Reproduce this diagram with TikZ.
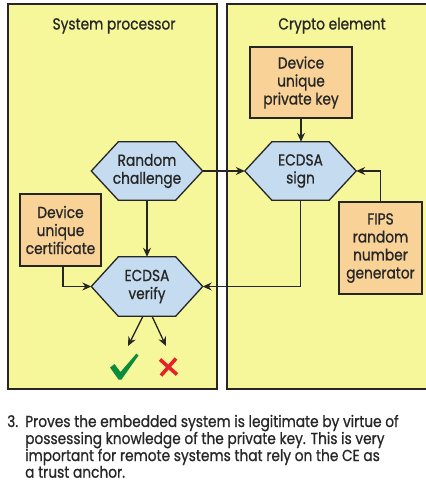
\documentclass[tikz,border=0pt]{standalone}
\usepackage{fontspec}
\setmainfont{Poppins}[FakeStretch=0.86,FakeBold=0.8]
\usetikzlibrary{arrows.meta,calc,backgrounds}
\definecolor{panelyellow}{HTML}{F6F69A}
\definecolor{boxorange}{HTML}{F8D296}
\definecolor{hexblue}{HTML}{C5DCF0}
\definecolor{inkgray}{HTML}{262626}
\definecolor{okgreen}{HTML}{0A8C3C}
\definecolor{nored}{HTML}{E8202A}
\tikzset{
  txt/.style={font=\fontsize{16}{18}\selectfont, text=inkgray, align=center, inner sep=0pt},
  panelsty/.style={draw=inkgray, line width=1.5pt, fill=panelyellow},
  boxsty/.style={txt, draw=inkgray, line width=1.3pt, fill=boxorange},
  hexnode/.style={txt, minimum width=111pt, minimum height=58pt},
  hexsty/.style={draw=inkgray, line width=1.3pt, fill=hexblue, line join=miter},
  conn/.style={draw=inkgray, line width=1.3pt, -{Stealth[length=9pt,width=8pt,inset=3pt]}},
}
\begin{document}
\begin{tikzpicture}[x=1pt,y=-1pt]
\useasboundingbox (0,0) rectangle (425,494);

% titles
\node[txt, anchor=base] (titleL) at (114,29.5) {System processor};
\node[txt, anchor=base] (titleR) at (332,29.5) {Crypto element};

% boxes
\node[boxsty, minimum width=102pt, minimum height=71pt] (key) at (301,82.5) {Device\\unique\\private key};
\node[boxsty, minimum width=81pt, minimum height=72pt] (cert) at (60.5,230) {Device\\unique\\certificate};
\node[boxsty, minimum width=83pt, minimum height=92pt] (fips) at (380.5,248) {FIPS\\random\\number\\generator};

% hexagon nodes
\node[hexnode] (chal) at (147,171) {Random\\challenge};
\node[hexnode] (sign) at (300.5,171) {ECDSA\\sign};
\node[hexnode, minimum height=59pt] (verify) at (147,286.5) {ECDSA\\verify};

\begin{scope}[on background layer]
  \draw[panelsty] (8,4) rectangle (217,389);
  \draw[panelsty] (227,4) rectangle (440,389);
  \foreach \n in {chal,sign,verify}
    \draw[hexsty] (\n.west) -- ($(\n.north west)+(27,0)$) -- ($(\n.north east)+(-27,0)$)
      -- (\n.east) -- ($(\n.south east)+(-27,0)$) -- ($(\n.south west)+(27,0)$) -- cycle;
\end{scope}

% connectors
\draw[conn] (key.south) -- (key.south |- sign.north);
\draw[conn] (chal.east) -- (sign.west);
\draw[conn] (fips.north) |- (sign.east);
\draw[conn] (sign.south) |- (verify.east);
\draw[conn] (chal.south) -- (verify.north);
\draw[conn] ([xshift=2.5pt]cert.south) |- (verify.west);

\coordinate (okend) at (128,346);
\coordinate (noend) at (166,346);
\draw[conn] ([xshift=-4pt]verify.south) -- (okend);
\draw[conn] ([xshift=5pt]verify.south) -- (noend);

% check mark
\fill[okgreen] (110,367.5) -- (114.5,364) -- (120.5,372) -- (136.5,353.5) -- (138.5,355.5)
  -- (121.5,379.5) -- (118.5,379.5) -- cycle;
% cross
\draw[nored, line width=3.6pt] (160,359.5) -- (177,374.5);
\draw[nored, line width=3.6pt] (176,358.5) -- (161,375.5);

% caption
\node[txt, anchor=base west, align=left, font=\fontsize{16}{16}\selectfont] (cap) at (7,427)
  {\renewcommand{\arraystretch}{1}%
   \begin{tabular}[t]{@{}p{18pt}@{}l@{}}
   3. & Proves the embedded system is legitimate by virtue of\\
      & possessing knowledge of the private key. This is very\\
      & important for remote systems that rely on the CE as\\
      & a trust anchor.
   \end{tabular}};
\end{tikzpicture}
\end{document}
